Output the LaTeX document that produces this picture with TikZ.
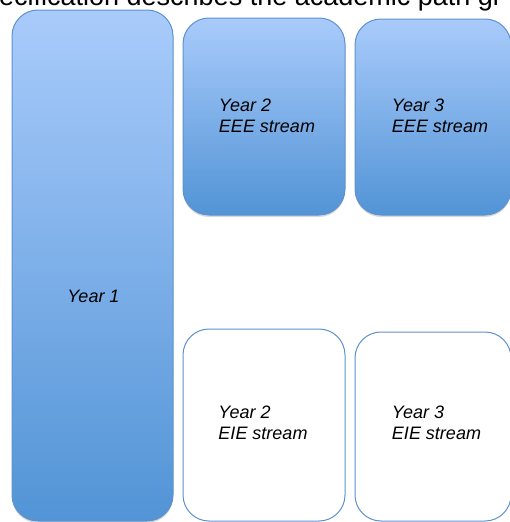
\documentclass[tikz,border=0pt]{standalone}
\usepackage{fontspec}
\setmainfont{Liberation Sans}
\usetikzlibrary{shadows}
\definecolor{topblue}{HTML}{A9CBFB}
\definecolor{botblue}{HTML}{5294D6}
\definecolor{edgeblue}{HTML}{5E92CF}
\tikzset{
  bluebox/.style={draw=edgeblue, line width=1pt, rounded corners=26pt, top color=topblue, bottom color=botblue,
    drop shadow={shadow xshift=0pt, shadow yshift=-2pt, opacity=0.25, fill=black!60}},
  whitebox/.style={draw=edgeblue, line width=1pt, rounded corners=26pt, fill=white},
  lbl/.style={font=\fontsize{18}{20.5}\selectfont\itshape, align=left, inner sep=0pt}
}
\begin{document}
\begin{tikzpicture}[x=1pt, y=-1pt]
\useasboundingbox (0,0) rectangle (510,522);
\fill[white] (0,0) rectangle (510,522);
% clipped heading text at the top
\node[anchor=base west, inner sep=0pt, font=\fontsize{27}{30}\selectfont] (head) at (-1,5.5) {ecification describes the academic path gi};
% boxes
\draw[bluebox] (12,10) rectangle (173,521);
\node[inner sep=0pt] (y1) at (92.5,265) {};
\node[lbl] (y1t) at (93.5,296) {Year 1};
\draw[bluebox] (183,18) rectangle (345,215);
\node[lbl] (y2eee) at (267,116) {Year 2\\EEE stream};
\draw[bluebox] (355,19) rectangle (511,215);
\node[lbl] (y3eee) at (440,116) {Year 3\\EEE stream};
\draw[whitebox] (183,329) rectangle (345,521);
\node[lbl] (y2eie) at (263,423) {Year 2\\EIE stream};
\draw[whitebox] (355,332) rectangle (511,521);
\node[lbl] (y3eie) at (436.5,423) {Year 3\\EIE stream};
\end{tikzpicture}
\end{document}
